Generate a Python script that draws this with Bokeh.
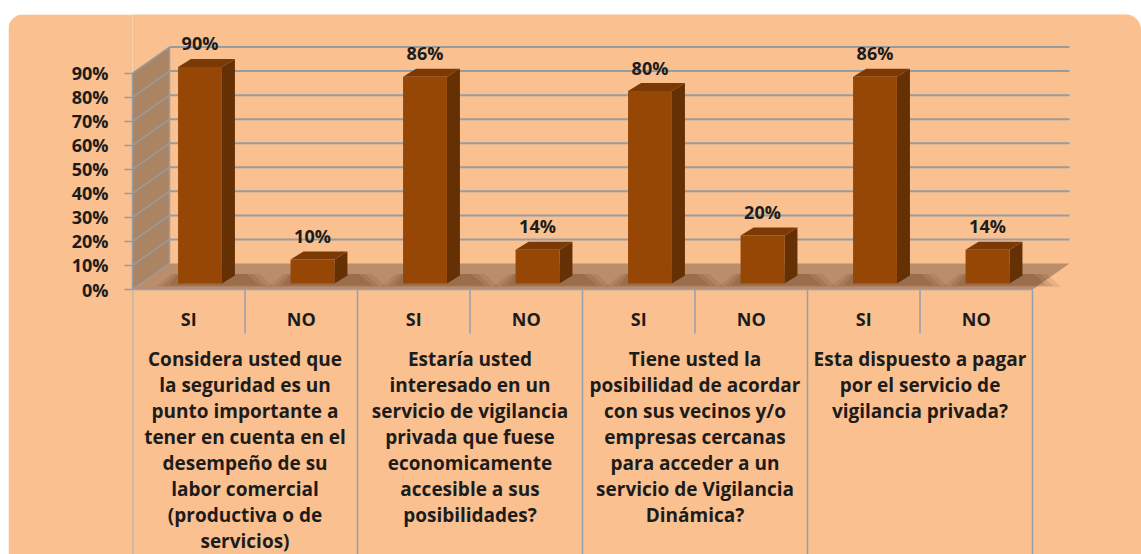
from bokeh.plotting import figure
from bokeh.models import Range1d, LinearAxis, FixedTicker, PrintfTickFormatter, Spacer
from bokeh.layouts import column, row
from bokeh.embed import file_html
from bokeh.resources import INLINE
from bokeh.core.properties import value

# ---------------- data ----------------
answers = ["SI", "NO", "SI", "NO", "SI", "NO", "SI", "NO"]
percentages = [90, 10, 86, 14, 80, 20, 86, 14]
y_ticks = [0, 10, 20, 30, 40, 50, 60, 70, 80, 90]
question_lines = [
    ["Considera usted que", "la seguridad es un", "punto importante a",
     "tener en cuenta en el", "desempeño de su", "labor comercial",
     "(productiva o de", "servicios)"],
    ["Estaría usted", "interesado en un", "servicio de vigilancia",
     "privada que fuese", "economicamente", "accesible a sus",
     "posibilidades?"],
    ["Tiene usted la", "posibilidad de acordar", "con sus vecinos y/o",
     "empresas cercanas", "para acceder a un", "servicio de Vigilancia",
     "Dinámica?"],
    ["Esta dispuesto a pagar", "por el servicio de", "vigilancia privada?"],
]

# ---------------- style / layout constants ----------------
FONT = value("Open Sans")
PEACH = "#FAC090"
GRID = "#979CA1"
TABLE_LINE = "#979FA8"
WALL = "#AB8464"
FLOOR = "#BA8D6B"
BAR_FRONT = "#974705"
BAR_SIDE = "#653004"
BAR_TOP = "#7B3A05"
TXT = "#1c1c1c"

W, H = 1133, 540
LEFT = 124            # canvas px left of the frame (axis area)
COL_PX = 112.5        # px per category column
PX_PER_PCT = 2.405    # px per percent
ORIGIN_Y = 275        # canvas px of the 0% front baseline
x_end = (W - LEFT) / COL_PX
y_top = ORIGIN_Y / PX_PER_PCT
y_bot = -(H - ORIGIN_Y) / PX_PER_PCT

DXW = 37 / COL_PX     # depth offset of back wall (x units)
DYW = 26 / PX_PER_PCT # depth offset of back wall (% units)
BAR_L = 0.405
BAR_W = 0.39
BAR_BASE = 2.5
BDX = 13 / COL_PX
BDY = 8 / PX_PER_PCT
LINE_STEP = 26 / PX_PER_PCT

n = len(percentages)
top_val = max(y_ticks)

p = figure(width=W, height=H, x_range=Range1d(0, x_end), y_range=Range1d(y_bot, y_top),
           output_backend="svg", toolbar_location=None,
           x_axis_location=None, y_axis_location=None,
           min_border_left=LEFT, min_border_right=0, min_border_top=0, min_border_bottom=0)
p.xgrid.visible = False
p.ygrid.visible = False
p.background_fill_color = PEACH
p.border_fill_color = PEACH
p.outline_line_color = None
p.styles = {"border-radius": "16px 16px 0 0", "overflow": "hidden"}

# left side wall
p.patch([0, 0, DXW, DXW], [0, top_val, top_val + DYW, DYW], fill_color=WALL, line_color=None)
# floor
p.patch([0, n, n + DXW, DXW], [0, 0, DYW, DYW], fill_color=FLOOR, line_color=None)

# back-wall gridlines and side-wall diagonals
back_ticks = [t for t in y_ticks if t > 0]
p.segment(x0=[DXW] * len(back_ticks), y0=[t + DYW for t in back_ticks],
          x1=[n + DXW] * len(back_ticks), y1=[t + DYW for t in back_ticks],
          line_color=GRID, line_width=2)
p.segment(x0=[0] * len(y_ticks), y0=y_ticks, x1=[DXW] * len(y_ticks),
          y1=[t + DYW for t in y_ticks], line_color=GRID, line_width=1.5)
p.segment(x0=[DXW], y0=[DYW], x1=[DXW], y1=[top_val + DYW], line_color=GRID, line_width=1.5)

# soft shadows on the floor
for grow, alpha in [(0.12, 0.10), (0.06, 0.12), (0.0, 0.14)]:
    sh_xs, sh_ys = [], []
    for i in range(n):
        x0 = i + BAR_L
        x1 = x0 + BAR_W
        sh_xs.append([x0 - 0.08 - grow, x1 + BDX + 0.22 + grow, x1 + BDX + 0.1 + grow, x0 - grow / 2])
        sh_ys.append([BAR_BASE - 0.8 - grow * 5, BAR_BASE - 0.8 - grow * 5,
                      BAR_BASE + BDY + 0.6, BAR_BASE + BDY + 0.6])
    p.patches(sh_xs, sh_ys, fill_color="#5a3010", fill_alpha=alpha, line_color=None)

# bars (3D)
side_xs, side_ys, top_xs, top_ys = [], [], [], []
lefts, rights, tops = [], [], []
for i, v in enumerate(percentages):
    x0 = i + BAR_L
    x1 = x0 + BAR_W
    t = v + BAR_BASE
    lefts.append(x0); rights.append(x1); tops.append(t)
    side_xs.append([x1, x1 + BDX, x1 + BDX, x1])
    side_ys.append([BAR_BASE, BAR_BASE + BDY, t + BDY, t])
    top_xs.append([x0, x1, x1 + BDX, x0 + BDX])
    top_ys.append([t, t, t + BDY, t + BDY])
p.patches(side_xs, side_ys, fill_color=BAR_SIDE, line_color=None)
p.patches(top_xs, top_ys, fill_color=BAR_TOP, line_color=None)
p.quad(left=lefts, right=rights, bottom=[BAR_BASE] * n, top=tops,
       fill_color=BAR_FRONT, line_color=None)

# data labels
p.text(x=[i + BAR_L + BAR_W / 2 for i in range(n)], y=[v + 12.3 for v in percentages],
       text=[f"{v}%" for v in percentages], text_font=FONT, text_font_style="bold",
       text_font_size="18px", text_color=TXT, text_align="center", text_baseline="middle")

# y axis
yaxis = LinearAxis(ticker=FixedTicker(ticks=y_ticks), formatter=PrintfTickFormatter(format="%d%%"),
                   bounds=(0, top_val), axis_line_color=GRID, axis_line_width=1.5,
                   major_tick_line_color=GRID, major_tick_line_width=1.5,
                   major_tick_out=8, major_tick_in=0, minor_tick_out=0, minor_tick_in=0,
                   major_label_text_font="Open Sans", major_label_text_font_style="bold",
                   major_label_text_font_size="18px", major_label_text_color=TXT,
                   major_label_standoff=16)
p.add_layout(yaxis, "left")

# category table
p.segment(x0=[0], y0=[0], x1=[n], y1=[0], line_color=TABLE_LINE, line_width=1.5)
groups = len(question_lines)
long_x = [2 * g for g in range(groups + 1)]
p.segment(x0=long_x, y0=[0] * len(long_x), x1=long_x, y1=[y_bot] * len(long_x),
          line_color=TABLE_LINE, line_width=1.5)
short_x = [2 * g + 1 for g in range(groups)]
p.segment(x0=short_x, y0=[0] * len(short_x), x1=short_x, y1=[-18.3] * len(short_x),
          line_color=TABLE_LINE, line_width=1.5)

p.text(x=[i + 0.5 for i in range(n)], y=[-12.1] * n, text=answers, text_font=FONT,
       text_font_style="bold", text_font_size="18px", text_color=TXT,
       text_align="center", text_baseline="middle")

qx, qy, qt = [], [], []
for g, lines in enumerate(question_lines):
    for k, line in enumerate(lines):
        qx.append(2 * g + 1)
        qy.append(-28.7 - k * LINE_STEP)
        qt.append(line)
p.text(x=qx, y=qy, text=qt, text_font=FONT, text_font_style="bold", text_font_size="19px",
       text_color=TXT, text_align="center", text_baseline="middle")

layout = column(Spacer(width=W, height=14), row(Spacer(width=8, height=H), p))
open("out.html", "w").write(file_html(layout, INLINE))
